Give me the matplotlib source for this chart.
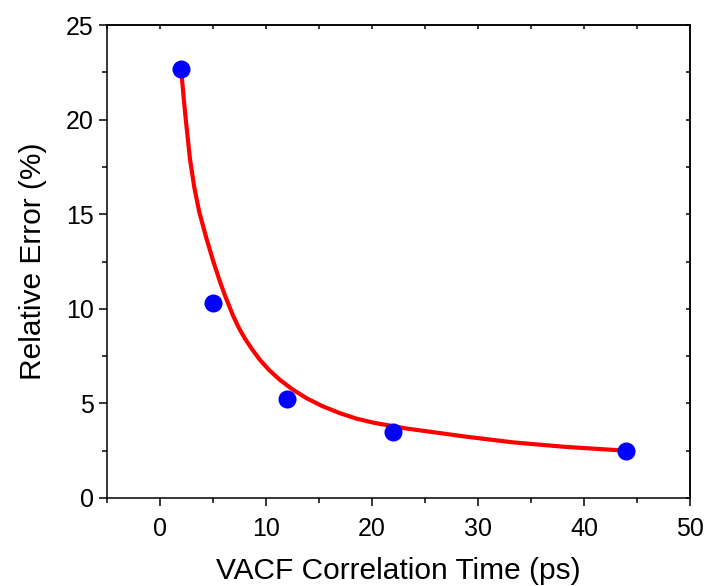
import numpy as np
import matplotlib
matplotlib.use("Agg")
import matplotlib.pyplot as plt
from matplotlib.ticker import MultipleLocator, NullFormatter

plt.rcParams['font.family'] = ['Liberation Sans', 'DejaVu Sans']

# measured points
corr_time = [2, 5, 12, 22, 44]
rel_error = [22.65, 10.3, 5.22, 3.5, 2.5]

# fitted curve
fit_x = [2.0, 2.25, 2.45, 2.83, 3.24, 3.71, 4.34, 5.03, 5.66, 6.13, 6.92, 7.45, 8.02, 8.7, 9.43,
         10.3, 11.32, 12.5, 13.84, 15.3, 16.98, 18.5, 20.13, 23.27, 26.42, 28.6, 33.3, 38.05, 42.8, 44.0]
fit_y = [22.6, 21.05, 19.9, 17.9, 16.4, 15.1, 13.8, 12.5, 11.43, 10.7, 9.6, 8.98, 8.42, 7.85, 7.3,
         6.76, 6.24, 5.74, 5.27, 4.86, 4.48, 4.2, 3.98, 3.67, 3.43, 3.26, 2.94, 2.71, 2.54, 2.5]

fig = plt.figure(figsize=(7.05, 5.86), dpi=100)
ax = fig.add_axes([0.1518, 0.1502, 0.8269, 0.8071])

ax.plot(fit_x, fit_y, color='#ff0000', lw=3, zorder=2, solid_capstyle='butt',
        solid_joinstyle='round')
ax.plot(corr_time, rel_error, 'o', color='#0000ff', ms=13, mec='none', zorder=3)

ax.set_xlim(-5, 50)
ax.set_ylim(0, 25)
ax.xaxis.set_major_locator(MultipleLocator(10))
ax.xaxis.set_minor_locator(MultipleLocator(5))
ax.yaxis.set_major_locator(MultipleLocator(5))
ax.yaxis.set_minor_locator(MultipleLocator(2.5))
ax.tick_params(which='major', direction='out', length=6, width=1.1, labelsize=18, colors='black')
ax.tick_params(which='minor', direction='out', length=3.5, width=1.1)
ax.tick_params(axis='x', pad=8)

for s in ax.spines.values():
    s.set_linewidth(1.1)

# inward ticks on top and right
top = ax.secondary_xaxis('top')
top.xaxis.set_major_locator(MultipleLocator(5))
top.xaxis.set_major_formatter(NullFormatter())
top.tick_params(direction='in', length=3, width=1.1)
top.spines['top'].set_linewidth(1.1)
right = ax.secondary_yaxis('right')
right.yaxis.set_major_locator(MultipleLocator(2.5))
right.yaxis.set_major_formatter(NullFormatter())
right.tick_params(direction='in', length=3, width=1.1)
right.spines['right'].set_linewidth(1.1)

ax.set_xlabel('VACF Correlation Time (ps)', fontsize=21.5, labelpad=11)
ax.set_ylabel('Relative Error (%)', fontsize=21.5, labelpad=14)

fig.savefig('out.png', dpi=100)
